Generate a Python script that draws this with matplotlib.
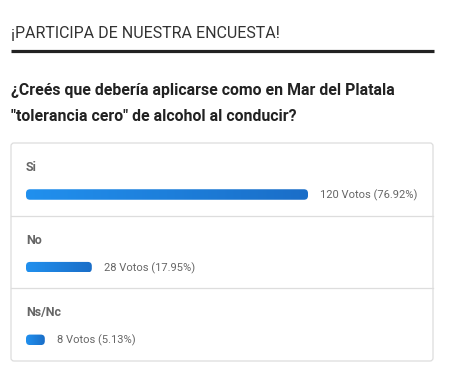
import matplotlib
matplotlib.use("Agg")
import numpy as np
import matplotlib.pyplot as plt
from matplotlib.patches import FancyBboxPatch
from matplotlib.colors import LinearSegmentedColormap

plt.rcParams['font.family'] = ['Roboto', 'DejaVu Sans']

# poll data
header = "¡PARTICIPA DE NUESTRA ENCUESTA!"
question = ["¿Creés que debería aplicarse como en Mar del Platala",
            "\"tolerancia cero\" de alcohol al conducir?"]
options = ["Si", "No", "Ns/Nc"]
votes = [120, 28, 8]
percents = [76.92, 17.95, 5.13]

W, H = 452, 371
fig = plt.figure(figsize=(W / 100, H / 100), dpi=100)
ax = fig.add_axes([0, 0, 1, 1])
ax.set_xlim(0, W)
ax.set_ylim(H, 0)
ax.axis('off')

# header + rule
ax.text(11, 38.3, header, fontsize=11.5, color='#333333', va='baseline')
ax.plot([11, 434], [51, 51], color='#222222', lw=2.3, solid_capstyle='butt')

# question
ax.text(11, 95, question[0], fontsize=11.4, fontweight='bold', color='#222222', va='baseline')
ax.text(11, 120.7, question[1], fontsize=11.4, fontweight='bold', color='#222222', va='baseline')

# outer box
box_top, box_bot = 143, 361
row_h = (box_bot - box_top) / len(options)
ax.add_patch(FancyBboxPatch((11, box_top), 422, box_bot - box_top,
                            boxstyle="round,pad=0,rounding_size=3",
                            fc='white', ec='#dddddd', lw=0.9, zorder=0))
for i in range(1, len(options)):
    y = box_top + i * row_h
    ax.plot([11, 433], [y, y], color='#dddddd', lw=0.9, zorder=0.5)

bar_x = 26
px_per_pct = 282 / 76.92
bar_h = 10.5
bar_y = [box_top + i * row_h + 51.5 for i in range(len(options))]
widths = [p * px_per_pct for p in percents]

cmap = LinearSegmentedColormap.from_list('bar', ['#2190ee', '#1a6ec8'])
bars = ax.barh(bar_y, widths, height=bar_h, left=bar_x, color='none')

for i, (b, opt, v, p) in enumerate(zip(bars, options, votes, percents)):
    x0, y0 = b.get_x(), b.get_y()
    w, h = b.get_width(), b.get_height()
    shape = FancyBboxPatch((x0, y0), w, h,
                           boxstyle="round,pad=0,rounding_size=4",
                           fc='none', ec='none')
    ax.add_patch(shape)
    grad = np.linspace(0, 1, 256).reshape(1, -1)
    im = ax.imshow(grad, cmap=cmap, extent=[x0, x0 + w, y0 + h, y0],
                   aspect='auto', interpolation='bilinear', zorder=2)
    im.set_clip_path(shape)
    ax.text(x0, box_top + i * row_h + 28, opt, fontsize=9.0, fontweight='bold',
            color='#666666', va='baseline')
    ax.text(x0 + w + 12, b.get_y() + h / 2 + 3.8, f"{v} Votos ({p:.2f}%)",
            fontsize=8.0, color='#666666', va='baseline')

ax.set_xlim(0, W)
ax.set_ylim(H, 0)
fig.savefig("out.png", dpi=100)
